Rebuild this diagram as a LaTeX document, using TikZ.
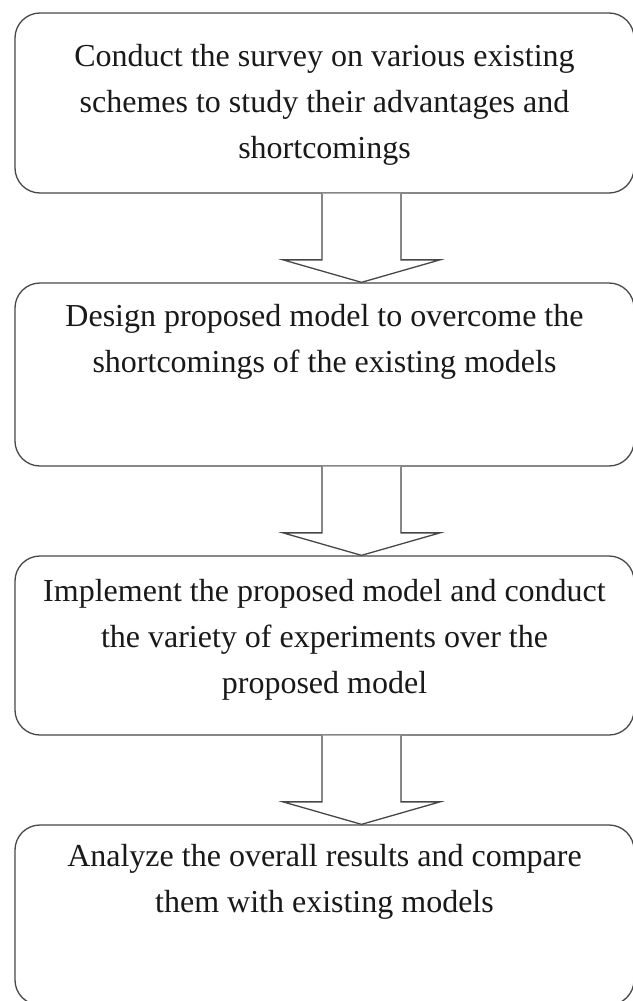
\documentclass[tikz,border=0pt]{standalone}
\usepackage{fontspec}
\setmainfont{Liberation Serif}
\usetikzlibrary{calc}

\begin{document}
\begin{tikzpicture}[x=1pt,y=-1pt,
  stepbox/.style={draw=black!72, line width=1.3pt, rounded corners=25pt,
    rectangle, inner sep=0pt, minimum width=619pt},
  steptext/.style={anchor=north, inner sep=0pt, align=center,
    font=\fontsize{32}{46}\selectfont, text=black!90},
  blockarrow/.style={draw=black!72, line width=1.3pt, fill=white, line join=miter}
]
% canvas
\useasboundingbox (0,0) rectangle (632,1001);
\fill[white] (0,0) rectangle (632,1001);

% process boxes
\node[stepbox, minimum height=180pt] (b1) at (324.5,103) {};
\node[stepbox, minimum height=183pt] (b2) at (324.5,374.5) {};
\node[stepbox, minimum height=179pt] (b3) at (324.5,645.5) {};
\node[stepbox, minimum height=180pt] (b4) at (324.5,915) {};

% box texts
\node[steptext] (t1) at (324.5,34) {\strut Conduct the survey on various existing\\schemes to study their advantages and\\shortcomings};
\node[steptext] (t2) at (324.5,294) {\strut Design proposed model to overcome the\\shortcomings of the existing models};
\node[steptext] (t3) at (324.5,569) {\strut Implement the proposed model and conduct\\the variety of experiments over the\\proposed model};
\node[steptext] (t4) at (324.5,834) {\strut Analyze the overall results and compare\\them with existing models};

% axis of the block arrows
\coordinate (ax) at (361.5,0);

% block arrows between consecutive boxes
\foreach \a/\b in {b1/b2, b2/b3, b3/b4}{
  \draw[blockarrow]
    ($(\a.south -| ax)+(-39.5,0)$) |- ($(\b.north -| ax)+(-78.5,-22.5)$)
    -- (\b.north -| ax)
    -- ($(\b.north -| ax)+(78.5,-22.5)$) -| ($(\a.south -| ax)+(39.5,0)$);
}
\end{tikzpicture}
\end{document}
